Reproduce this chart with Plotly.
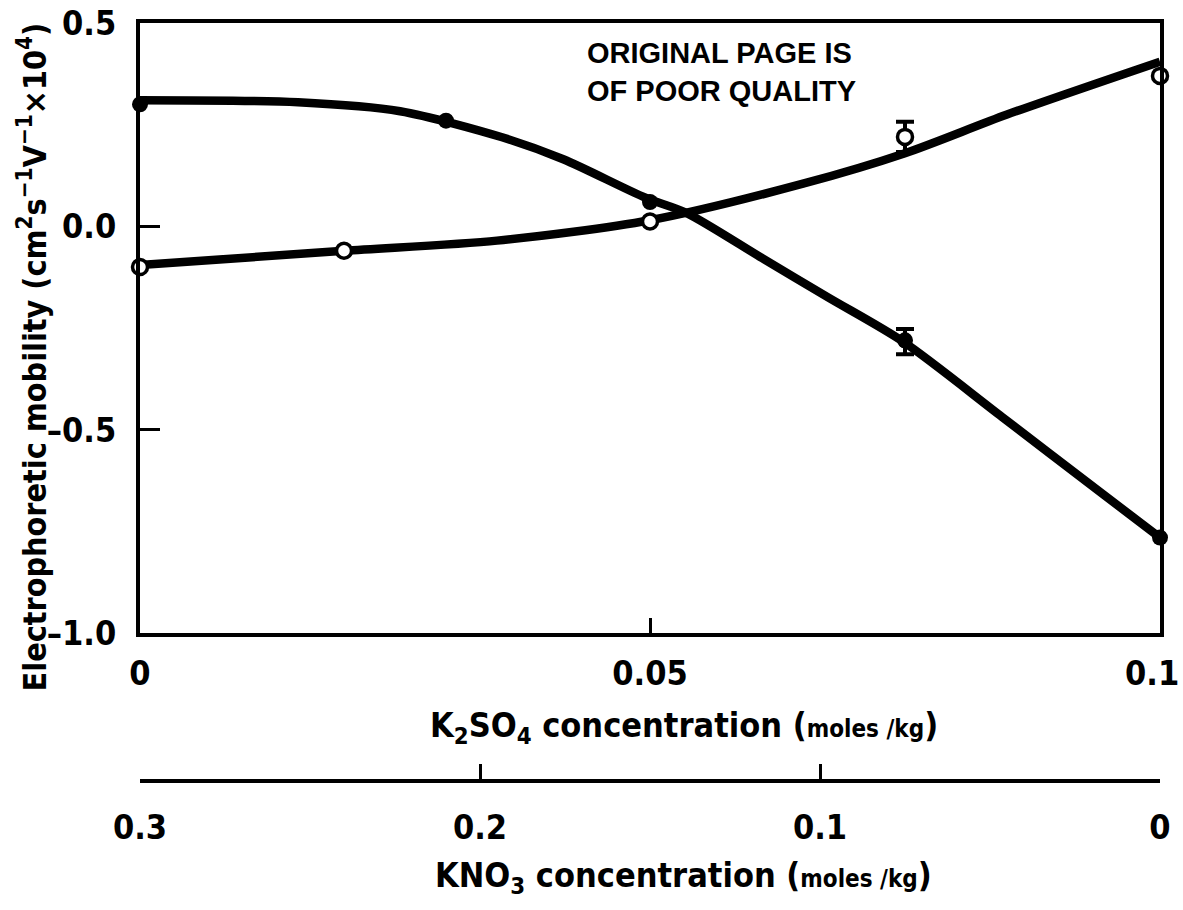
import plotly.graph_objects as go

# ---- data ----
# measured points (K2SO4 concentration, mol/kg) vs electrophoretic mobility
k2so4_filled = [0.0, 0.03, 0.05, 0.075, 0.1]
mu_filled = [0.30, 0.26, 0.06, -0.28, -0.765]
k2so4_open = [0.0, 0.02, 0.05, 0.075, 0.1]
mu_open = [-0.10, -0.06, 0.012, 0.22, 0.37]

# error bars (only at 0.075)
err_x = [0.075]
err_filled_y = [-0.283]
err_filled = [0.031]
err_open_y = [0.22]
err_open = [0.037]

# hand-drawn smooth curves
curve_filled_x = [0.0, 0.0155, 0.0255, 0.0355, 0.0415, 0.0495, 0.0535, 0.061, 0.0675, 0.0748, 0.0845, 0.0945, 0.1]
curve_filled_y = [0.31, 0.305, 0.283, 0.219, 0.165, 0.071, 0.034, -0.078, -0.175, -0.283, -0.468, -0.66, -0.765]
curve_open_x = [0.0, 0.02, 0.035, 0.05, 0.065, 0.075, 0.085, 0.1]
curve_open_y = [-0.095, -0.06, -0.035, 0.015, 0.105, 0.18, 0.275, 0.405]

# axes ticks
x_ticks = [0, 0.05, 0.1]
x_ticktext = ["0", "0.05", ""]          # the last label is placed as an annotation (kept inside the page)
x_last_label = "0.1"
y_ticks = [-1.0, -0.5, 0.0, 0.5]
y_ticktext = ["\u20131.0", "\u20130.5", "0.0", "0.5"]
kno3_ticks = [0.3, 0.2, 0.1, 0.0]
kno3_ticktext = ["0.3", "0.2", "0.1", "0"]

FONT = "DejaVu Sans Condensed, DejaVu Sans, sans-serif"
TICKFONT = dict(size=34, family=FONT, weight="bold")

fig = go.Figure()

# curves
fig.add_trace(go.Scatter(x=curve_filled_x, y=curve_filled_y, mode="lines",
                         line=dict(color="black", width=8.5, shape="spline", smoothing=0.8),
                         hoverinfo="skip", showlegend=False))
fig.add_trace(go.Scatter(x=curve_open_x, y=curve_open_y, mode="lines",
                         line=dict(color="black", width=8.5, shape="spline", smoothing=0.8),
                         hoverinfo="skip", showlegend=False))

# error bars
fig.add_trace(go.Scatter(x=err_x, y=err_filled_y, mode="markers",
                         marker=dict(size=14, color="black"),
                         error_y=dict(type="data", array=err_filled, color="black", thickness=4, width=9),
                         showlegend=False))
fig.add_trace(go.Scatter(x=err_x, y=err_open_y, mode="markers",
                         marker=dict(size=1, color="black"),
                         error_y=dict(type="data", array=err_open, color="black", thickness=4, width=9),
                         showlegend=False))

# points
fig.add_trace(go.Scatter(x=k2so4_filled, y=mu_filled, mode="markers",
                         marker=dict(size=16, color="black"), cliponaxis=False, showlegend=False))
fig.add_trace(go.Scatter(x=k2so4_open, y=mu_open, mode="markers",
                         marker=dict(size=15, color="white", line=dict(color="black", width=3.5)),
                         cliponaxis=False, showlegend=False))

# dummy trace to show the KNO3 axis
fig.add_trace(go.Scatter(x=kno3_ticks, y=[None] * len(kno3_ticks), xaxis="x2", mode="markers",
                         hoverinfo="skip", showlegend=False))

fig.update_layout(
    width=1183, height=910,
    margin=dict(l=140, r=23, t=23, b=129, autoexpand=False),
    paper_bgcolor="white", plot_bgcolor="white",
    font=dict(family=FONT, color="black", size=34),
    xaxis=dict(range=[0, 0.1], domain=[0, 1], anchor="y", automargin=False,
               tickvals=x_ticks, ticktext=x_ticktext, ticks="inside", ticklen=15, tickwidth=3,
               tickcolor="black", showline=True, linewidth=4, linecolor="black", mirror=True,
               showgrid=False, zeroline=False, ticklabelstandoff=7, ticklabeloverflow="allow",
               tickfont=TICKFONT),
    yaxis=dict(range=[-1.0, 0.5], domain=[0.195, 1], automargin=False,
               tickvals=y_ticks, ticktext=y_ticktext, ticks="inside", ticklen=20, tickwidth=3,
               tickcolor="black", showline=True, linewidth=4, linecolor="black", mirror=True,
               showgrid=False, zeroline=False, ticklabelstandoff=13, ticklabeloverflow="allow",
               tickfont=TICKFONT),
    xaxis2=dict(range=[0.3, 0], overlaying="x", anchor="free", position=0, side="bottom",
                automargin=False,
                tickvals=kno3_ticks, ticktext=kno3_ticktext, ticks="inside", ticklen=15, tickwidth=3,
                tickcolor="black", showline=True, linewidth=4, linecolor="black",
                showgrid=False, zeroline=False, ticklabelstandoff=15, ticklabeloverflow="allow",
                tickfont=TICKFONT),
    annotations=[
        dict(text=x_last_label, xref="x", yref="paper", x=x_ticks[-1], y=0.1425,
             xanchor="right", yanchor="middle", xshift=21, showarrow=False, font=TICKFONT),
        dict(text="Electrophoretic mobility (cm<sup>2</sup>s<sup>\u22121</sup>V<sup>\u22121</sup>\u00d710<sup>4</sup>)",
             xref="paper", yref="paper", x=-0.106, y=0.56, xanchor="center", yanchor="middle",
             textangle=-90, showarrow=False, font=dict(size=32, family=FONT, weight="bold")),
        dict(text="K<sub>2</sub>SO<sub>4</sub> concentration (<span style='font-size:24px'>moles /kg</span>)",
             xref="paper", yref="paper", x=0.533, y=0.071, xanchor="center", yanchor="middle",
             showarrow=False, font=dict(size=34, family=FONT, weight="bold")),
        dict(text="KNO<sub>3</sub> concentration (<span style='font-size:24px'>moles /kg</span>)",
             xref="paper", yref="paper", x=0.533, y=-0.127, xanchor="center", yanchor="middle",
             showarrow=False, font=dict(size=34, family=FONT, weight="bold")),
        dict(text="<b>ORIGINAL PAGE IS<br>OF POOR QUALITY</b>",
             xref="paper", yref="paper", x=0.570, y=0.935, xanchor="center", yanchor="middle",
             align="left", showarrow=False,
             font=dict(size=29, family="Liberation Sans, Arial, sans-serif")),
    ],
)

fig.write_html("out.html",
               config={"displayModeBar": False},
               post_script="document.body.style.margin='0px';document.body.style.overflow='hidden';")
